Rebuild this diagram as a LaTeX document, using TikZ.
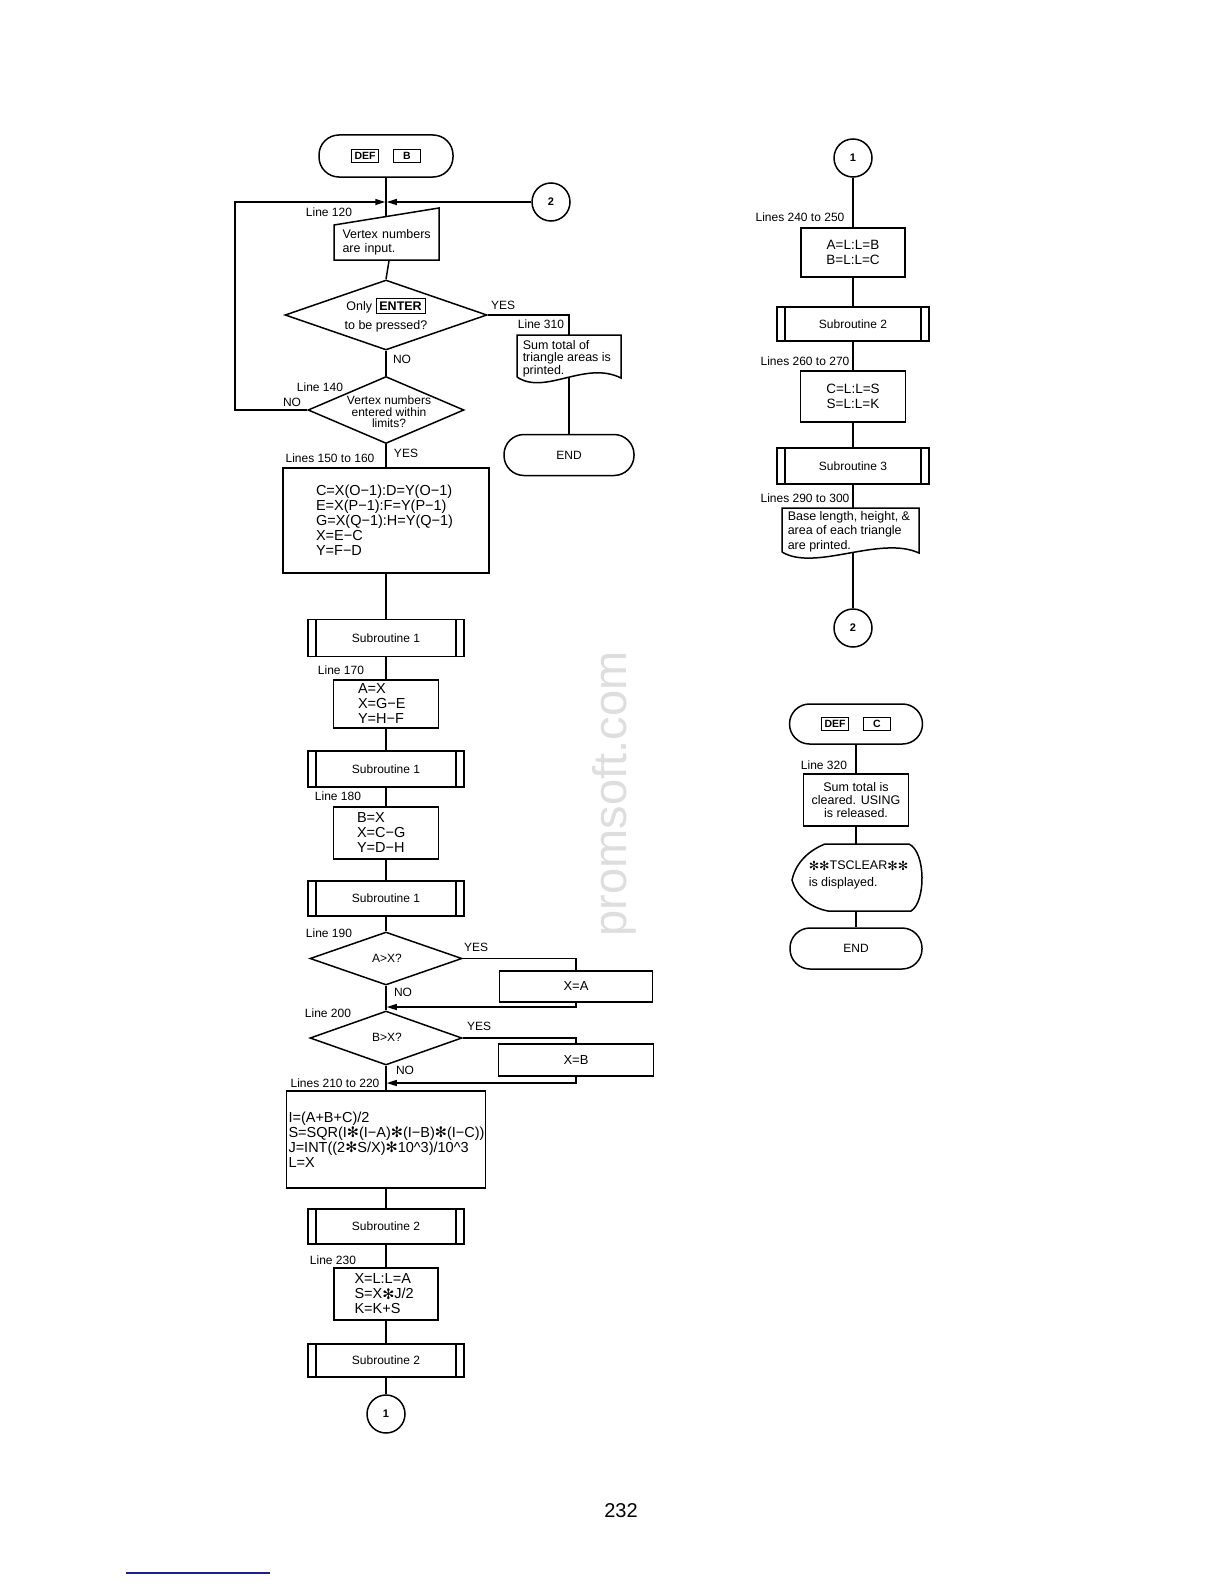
\documentclass[tikz,border=0pt]{standalone}
\usepackage{fontspec}
\setmainfont{Liberation Sans}
\newfontfamily\djv{DejaVu Sans}
\usetikzlibrary{shapes.geometric,arrows.meta,calc}
\newcommand{\fs}[2]{\fontsize{#1}{#2}\selectfont}
\newcommand{\stx}{{\djv\raisebox{-0.05em}{✻}}}
\newcommand{\kdef}{{\setlength{\fboxrule}{1.2pt}\setlength{\fboxsep}{2.2pt}\fbox{\fs{10.5}{10.5}\bfseries DEF}}}
\newcommand{\kletter}[1]{{\setlength{\fboxrule}{1.2pt}\setlength{\fboxsep}{2.2pt}\fbox{\makebox[21pt]{\fs{10.5}{10.5}\bfseries #1}}}}
\newcommand{\kenter}{{\setlength{\fboxrule}{1.1pt}\setlength{\fboxsep}{2.8pt}\fbox{\fs{12.5}{12.5}\bfseries ENTER}}}
\begin{document}
\begin{tikzpicture}[x=1pt,y=-1pt, line width=1.5pt,
  base/.style={font=\fs{12}{13}, inner sep=0pt},
  term/.style={draw, rectangle, rounded corners=20pt, inner sep=0pt, font=\fs{12}{13}},
  proc/.style={draw, rectangle, inner sep=0pt, font=\fs{14.5}{15}},
  subr/.style={draw, rectangle, inner sep=0pt, minimum width=156pt, font=\fs{12}{13},
    path picture={
      \draw[line width=1.5pt] ([xshift=8pt]path picture bounding box.north west) -- ([xshift=8pt]path picture bounding box.south west);
      \draw[line width=1.5pt] ([xshift=-8pt]path picture bounding box.north east) -- ([xshift=-8pt]path picture bounding box.south east);}},
  dec/.style={draw, diamond, inner sep=0pt},
  conn/.style={draw, circle, minimum size=38pt, inner sep=0pt, font=\fs{11}{11}\bfseries},
  lbl/.style={font=\fs{12}{13}, inner sep=0pt},
  arr/.style={-{Triangle[length=10pt,width=6pt]}},
]
\fill[white] (0,0) rectangle (1224,1584);
\useasboundingbox (0,0) rectangle (1224,1584);

% watermark
\node[rotate=90, text=black!13, font=\fs{47}{47}] (wm) at (614,794) {promsoft.com};

% ===== left column =====
\node[term, minimum width=134pt, minimum height=42pt] (start) at (386,156) {\kdef\hspace{14pt}\kletter{B}};
\node[conn] (c2a) at (551,202) {2};
\coordinate (merge) at (386,202);
\coordinate (loopL) at (235,202);
\draw (334,260) -- (334,225) -- (439,208) -- (439,260) -- cycle;
\coordinate (in1top) at (386,216.5);
\node[base, align=left, text width=93pt, minimum height=35pt, font=\fs{12.5}{14}] (in1) at (389,242.5) {Vertex numbers\\are input.};
\node[lbl] (l120) at (329,212) {Line 120};

\node[dec, minimum width=202pt, minimum height=70pt] (d1) at (386,315) {};
\node[base, align=center, font=\fs{12.5}{14}] (d1t) at (386,315) {Only \kenter\\[5pt]to be pressed?};
\node[lbl] (y1) at (503,305) {YES};
\coordinate (doc1t) at (569,335);
\draw (517,377) -- (517,335) -- (621,335) -- (621,378) .. controls (585,360) and (545,396) .. (517,377);
\node[lbl, align=left, anchor=west, font=\fs{12.5}{12.5}] (doc1) at (522,358.5) {Sum total of\\triangle areas is\\printed.};
\coordinate (doc1b) at (569,378);
\node[lbl] (l310) at (541,324) {Line 310};
\node[term, minimum width=130pt, minimum height=41pt] (end1) at (569,455) {END};
\node[lbl] (n1) at (402,359) {NO};

\node[dec, minimum width=156pt, minimum height=67pt] (d2) at (386,410) {};
\node[base, align=center, font=\fs{12}{11.5}] (d2t) at (389,412) {Vertex numbers\\entered within\\limits?};
\node[lbl] (l140) at (320,387) {Line 140};
\node[lbl] (n2) at (292,402) {NO};
\node[lbl] (y2) at (406,453) {YES};
\node[lbl] (l150) at (330,458) {Lines 150 to 160};

\node[proc, minimum width=206pt, minimum height=105pt, align=left, text width=140pt] (box1) at (386,520.5)
  {C=X(O−1):D=Y(O−1)\\E=X(P−1):F=Y(P−1)\\G=X(Q−1):H=Y(Q−1)\\X=E−C\\Y=F−D};
\node[subr, minimum height=37pt] (sub1a) at (386,638) {Subroutine 1};
\node[lbl] (l170) at (341,670) {Line 170};
\node[proc, minimum width=105pt, minimum height=48pt, align=left, text width=56pt] (boxA) at (386,704) {A=X\\X=G−E\\Y=H−F};
\node[subr, minimum height=36pt] (sub1b) at (386,769) {Subroutine 1};
\node[lbl] (l180) at (338,796) {Line 180};
\node[proc, minimum width=105pt, minimum height=52pt, align=left, text width=58pt] (boxB) at (386,833) {B=X\\X=C−G\\Y=D−H};
\node[subr, minimum height=35pt] (sub1c) at (386,898.5) {Subroutine 1};
\node[lbl] (l190) at (329,933) {Line 190};

\node[dec, minimum width=152pt, minimum height=53pt] (dA) at (386,958.5) {};
\node[base] (dAt) at (387,958) {A>X?};
\node[lbl] (y3) at (476,947) {YES};
\node[proc, minimum width=153pt, minimum height=31pt, font=\fs{13}{14}] (boxXA) at (576,986.5) {X=A};
\coordinate (jA) at (386,1007);
\node[lbl] (n3) at (403,992) {NO};
\node[lbl] (l200) at (328,1013) {Line 200};

\node[dec, minimum width=152pt, minimum height=54pt] (dB) at (386,1038) {};
\node[base] (dBt) at (387,1037) {B>X?};
\node[lbl] (y4) at (479,1026) {YES};
\node[proc, minimum width=155pt, minimum height=32pt, font=\fs{13}{14}] (boxXB) at (576,1060) {X=B};
\coordinate (jB) at (386,1083);
\node[lbl] (n4) at (405,1070) {NO};
\node[lbl] (l210) at (335,1083) {Lines 210 to 220};

\node[proc, minimum width=199pt, minimum height=97pt, align=left, text width=195pt] (big) at (386,1139.5)
  {I=(A+B+C)/2\\S=SQR(I\stx(I−A)\stx(I−B)\stx(I−C))\\J=INT((2\stx S/X)\stx10\textasciicircum3)/10\textasciicircum3\\L=X};
\node[subr, minimum height=35pt] (sub2a) at (386,1226.5) {Subroutine 2};
\node[lbl] (l230) at (333,1260) {Line 230};
\node[proc, minimum width=104pt, minimum height=52pt, align=left, text width=63pt] (boxL) at (386,1294) {X=L:L=A\\S=X\stx J/2\\K=K+S};
\node[subr, minimum height=33pt] (sub2b) at (386,1360.5) {Subroutine 2};
\node[conn] (c1a) at (386,1414) {1};

% ===== right column =====
\node[conn] (c1b) at (853,158) {1};
\node[lbl] (l240) at (800,217) {Lines 240 to 250};
\node[proc, minimum width=104pt, minimum height=49pt, align=center, font=\fs{13.5}{15.5}] (boxAL) at (853,252.5) {A=L:L=B\\B=L:L=C};
\node[subr, minimum width=152pt, minimum height=34pt] (sub2r) at (853,324) {Subroutine 2};
\node[lbl] (l260) at (805,361) {Lines 260 to 270};
\node[proc, minimum width=105pt, minimum height=51pt, align=center, font=\fs{13.5}{15.5}] (boxCL) at (853,396.5) {C=L:L=S\\S=L:L=K};
\node[subr, minimum width=152pt, minimum height=36pt] (sub3r) at (853,466) {Subroutine 3};
\node[lbl] (l290) at (805,498) {Lines 290 to 300};
\coordinate (doc2t) at (853,508);
\draw (782,552) -- (782,508) -- (919,508) -- (919,553) .. controls (880,535) and (815,572) .. (782,552);
\node[lbl, align=left, anchor=west, font=\fs{12.5}{14.5}] (doc2) at (787,531.5) {Base length, height, \&\\area of each triangle\\are printed.};
\coordinate (doc2b) at (853,553);
\node[conn] (c2b) at (853,628) {2};

% ===== bottom right =====
\node[term, minimum width=133pt, minimum height=40pt] (termC) at (856,724) {\kdef\hspace{14pt}\kletter{C}};
\node[lbl] (l320) at (824,765) {Line 320};
\node[proc, minimum width=105pt, minimum height=52pt, align=center, font=\fs{12.5}{13}] (boxSum) at (856,800) {Sum total is\\cleared. USING\\is released.};
\draw (825,844) -- (909,844) .. controls (926,852) and (926,902) .. (911,911) -- (828,911) .. controls (812,908) and (797,898) .. (792,880) .. controls (795,866) and (805,852) .. (825,844) -- cycle;
\coordinate (dispT) at (856,844);
\coordinate (dispB) at (856,911);
\node[lbl, align=left, anchor=west, font=\fs{12.5}{17}] (disp) at (808,875) {\stx\stx TSCLEAR\stx\stx\\is displayed.};
\node[term, minimum width=132pt, minimum height=41pt] (end2) at (856,948.5) {END};

% page number and rule
\node[font=\fs{20}{20}, inner sep=0pt] (pg) at (621,1511) {232};
\draw[color={rgb,255:red,30;green,30;blue,140}, line width=1.5pt] (126,1573) -- (270,1573);

% ===== connectors =====
\draw (start.south) -- (in1top);
\draw[arr] (d2.west) -| (loopL) -- ([xshift=-0.75pt]merge);
\draw[arr] (c2a.west) -- ([xshift=0.75pt]merge);
\draw (in1.south) -- (d1.north);
\draw (d1.south) -- (d2.north);
\draw (d1.east) -| (doc1t);
\draw (doc1b) -- (end1.north);
\draw (d2.south) -- (box1.north);
\draw (box1.south) -- (sub1a.north);
\draw (sub1a.south) -- (boxA.north);
\draw (boxA.south) -- (sub1b.north);
\draw (sub1b.south) -- (boxB.north);
\draw (boxB.south) -- (sub1c.north);
\draw (sub1c.south) -- (dA.north);
\draw (dA.east) -| (boxXA.north);
\draw[arr] (boxXA.south) |- ([xshift=0.75pt]jA);
\draw (dA.south) -- (dB.north);
\draw (dB.east) -| (boxXB.north);
\draw[arr] (boxXB.south) |- ([xshift=0.75pt]jB);
\draw (dB.south) -- (big.north);
\draw (big.south) -- (sub2a.north);
\draw (sub2a.south) -- (boxL.north);
\draw (boxL.south) -- (sub2b.north);
\draw (sub2b.south) -- (c1a.north);

\draw (c1b.south) -- (boxAL.north);
\draw (boxAL.south) -- (sub2r.north);
\draw (sub2r.south) -- (boxCL.north);
\draw (boxCL.south) -- (sub3r.north);
\draw (sub3r.south) -- (doc2t);
\draw (doc2b) -- (c2b.north);

\draw (termC.south) -- (boxSum.north);
\draw (boxSum.south) -- (dispT);
\draw (dispB) -- (end2.north);
\end{tikzpicture}
\end{document}
